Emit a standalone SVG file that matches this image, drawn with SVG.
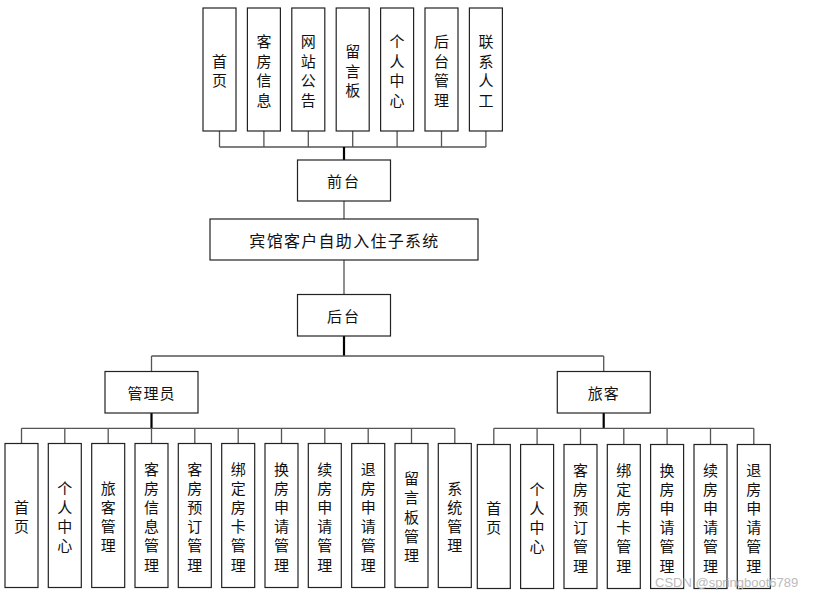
<svg xmlns="http://www.w3.org/2000/svg" width="834" height="598" viewBox="0 0 834 598">
<style>
rect{fill:#fff;stroke:#222;stroke-width:1.2}
text{font-family:"Noto Sans CJK SC","Noto Sans",sans-serif;font-size:15px;fill:#111;text-anchor:middle;dominant-baseline:central}
.c{fill:none;stroke:#555;stroke-width:1.3}
.t{fill:none;stroke:#000;stroke-width:2.2}
.wm{font-family:"Liberation Sans",sans-serif;font-size:13px;fill:#bbb;text-anchor:start}
</style>
<rect width="834" height="598" style="fill:#fff;stroke:none"/>
<g id="connectors">
<path class="c" d="M219.5 131V147M263.9 131V147M308.3 131V147M352.7 131V147M397.1 131V147M441.5 131V147M485.9 131V147M219.5 147H485.9"/>
<path class="t" d="M344 147V160"/>
<path class="c" d="M344 201V219M344 260V294"/>
<path class="t" d="M344 336V356"/>
<path class="c" d="M151.5 356H603.7M151.5 356V371M603.7 356V371"/>
<path class="t" d="M151.5 413V428.3M603.7 413V428.3"/>
<path class="c" d="M21.5 428.3H454.8M21.5 428.3V443.5M64.8 428.3V443.5M108.2 428.3V443.5M151.5 428.3V443.5M194.8 428.3V443.5M238.2 428.3V443.5M281.5 428.3V443.5M324.8 428.3V443.5M368.2 428.3V443.5M411.5 428.3V443.5M454.8 428.3V443.5"/>
<path class="c" d="M493.8 428.3H753.8M493.8 428.3V444.5M537.1 428.3V444.5M580.5 428.3V444.5M623.8 428.3V444.5M667.1 428.3V444.5M710.5 428.3V444.5M753.8 428.3V444.5"/>
</g>
<g id="n-home"><rect x="203" y="8" width="33" height="123"/><text><tspan x="219.5" y="59.75">首</tspan><tspan x="219.5" y="79.25">页</tspan></text></g>
<g id="n-roominfo"><rect x="247.4" y="8" width="33" height="123"/><text><tspan x="263.9" y="40.25">客</tspan><tspan x="263.9" y="59.75">房</tspan><tspan x="263.9" y="79.25">信</tspan><tspan x="263.9" y="98.75">息</tspan></text></g>
<g id="n-notice"><rect x="291.8" y="8" width="33" height="123"/><text><tspan x="308.3" y="40.25">网</tspan><tspan x="308.3" y="59.75">站</tspan><tspan x="308.3" y="79.25">公</tspan><tspan x="308.3" y="98.75">告</tspan></text></g>
<g id="n-board"><rect x="336.2" y="8" width="33" height="123"/><text><tspan x="352.7" y="50">留</tspan><tspan x="352.7" y="69.5">言</tspan><tspan x="352.7" y="89">板</tspan></text></g>
<g id="n-center"><rect x="380.6" y="8" width="33" height="123"/><text><tspan x="397.1" y="40.25">个</tspan><tspan x="397.1" y="59.75">人</tspan><tspan x="397.1" y="79.25">中</tspan><tspan x="397.1" y="98.75">心</tspan></text></g>
<g id="n-admin-link"><rect x="425" y="8" width="33" height="123"/><text><tspan x="441.5" y="40.25">后</tspan><tspan x="441.5" y="59.75">台</tspan><tspan x="441.5" y="79.25">管</tspan><tspan x="441.5" y="98.75">理</tspan></text></g>
<g id="n-contact"><rect x="469.4" y="8" width="33" height="123"/><text><tspan x="485.9" y="40.25">联</tspan><tspan x="485.9" y="59.75">系</tspan><tspan x="485.9" y="79.25">人</tspan><tspan x="485.9" y="98.75">工</tspan></text></g>
<g id="n-front"><rect x="297.5" y="160" width="93" height="41"/><text x="344" y="180.5" letter-spacing="2">前台</text></g>
<g id="n-system"><rect x="210" y="219" width="268" height="41"/><text x="344.5" y="239.5" style="font-size:16px" letter-spacing="1.3">宾馆客户自助入住子系统</text></g>
<g id="n-back"><rect x="297.5" y="294.5" width="93" height="41.5"/><text x="344" y="315" letter-spacing="2">后台</text></g>
<g id="n-administrator"><rect x="105" y="371.5" width="93" height="41.5"/><text x="151.5" y="392" letter-spacing="1">管理员</text></g>
<g id="n-traveler"><rect x="557.3" y="371.5" width="93" height="41.5"/><text x="603.8" y="392" letter-spacing="1">旅客</text></g>
<g id="a1"><rect x="5" y="443.5" width="33" height="144"/><text><tspan x="21.5" y="505.9">首</tspan><tspan x="21.5" y="525.1">页</tspan></text></g>
<g id="a2"><rect x="48.3" y="443.5" width="33" height="144"/><text><tspan x="64.8" y="486.7">个</tspan><tspan x="64.8" y="505.9">人</tspan><tspan x="64.8" y="525.1">中</tspan><tspan x="64.8" y="544.3">心</tspan></text></g>
<g id="a3"><rect x="91.7" y="443.5" width="33" height="144"/><text><tspan x="108.2" y="486.7">旅</tspan><tspan x="108.2" y="505.9">客</tspan><tspan x="108.2" y="525.1">管</tspan><tspan x="108.2" y="544.3">理</tspan></text></g>
<g id="a4"><rect x="135" y="443.5" width="33" height="144"/><text><tspan x="151.5" y="467.5">客</tspan><tspan x="151.5" y="486.7">房</tspan><tspan x="151.5" y="505.9">信</tspan><tspan x="151.5" y="525.1">息</tspan><tspan x="151.5" y="544.3">管</tspan><tspan x="151.5" y="563.5">理</tspan></text></g>
<g id="a5"><rect x="178.3" y="443.5" width="33" height="144"/><text><tspan x="194.8" y="467.5">客</tspan><tspan x="194.8" y="486.7">房</tspan><tspan x="194.8" y="505.9">预</tspan><tspan x="194.8" y="525.1">订</tspan><tspan x="194.8" y="544.3">管</tspan><tspan x="194.8" y="563.5">理</tspan></text></g>
<g id="a6"><rect x="221.7" y="443.5" width="33" height="144"/><text><tspan x="238.2" y="467.5">绑</tspan><tspan x="238.2" y="486.7">定</tspan><tspan x="238.2" y="505.9">房</tspan><tspan x="238.2" y="525.1">卡</tspan><tspan x="238.2" y="544.3">管</tspan><tspan x="238.2" y="563.5">理</tspan></text></g>
<g id="a7"><rect x="265" y="443.5" width="33" height="144"/><text><tspan x="281.5" y="467.5">换</tspan><tspan x="281.5" y="486.7">房</tspan><tspan x="281.5" y="505.9">申</tspan><tspan x="281.5" y="525.1">请</tspan><tspan x="281.5" y="544.3">管</tspan><tspan x="281.5" y="563.5">理</tspan></text></g>
<g id="a8"><rect x="308.3" y="443.5" width="33" height="144"/><text><tspan x="324.8" y="467.5">续</tspan><tspan x="324.8" y="486.7">房</tspan><tspan x="324.8" y="505.9">申</tspan><tspan x="324.8" y="525.1">请</tspan><tspan x="324.8" y="544.3">管</tspan><tspan x="324.8" y="563.5">理</tspan></text></g>
<g id="a9"><rect x="351.7" y="443.5" width="33" height="144"/><text><tspan x="368.2" y="467.5">退</tspan><tspan x="368.2" y="486.7">房</tspan><tspan x="368.2" y="505.9">申</tspan><tspan x="368.2" y="525.1">请</tspan><tspan x="368.2" y="544.3">管</tspan><tspan x="368.2" y="563.5">理</tspan></text></g>
<g id="a10"><rect x="395" y="443.5" width="33" height="144"/><text><tspan x="411.5" y="477.1">留</tspan><tspan x="411.5" y="496.3">言</tspan><tspan x="411.5" y="515.5">板</tspan><tspan x="411.5" y="534.7">管</tspan><tspan x="411.5" y="553.9">理</tspan></text></g>
<g id="a11"><rect x="438.3" y="443.5" width="33" height="144"/><text><tspan x="454.8" y="486.7">系</tspan><tspan x="454.8" y="505.9">统</tspan><tspan x="454.8" y="525.1">管</tspan><tspan x="454.8" y="544.3">理</tspan></text></g>
<g id="t1"><rect x="477.3" y="444.5" width="33" height="144"/><text><tspan x="493.8" y="506.9">首</tspan><tspan x="493.8" y="526.1">页</tspan></text></g>
<g id="t2"><rect x="520.6" y="444.5" width="33" height="144"/><text><tspan x="537.1" y="487.7">个</tspan><tspan x="537.1" y="506.9">人</tspan><tspan x="537.1" y="526.1">中</tspan><tspan x="537.1" y="545.3">心</tspan></text></g>
<g id="t3"><rect x="564" y="444.5" width="33" height="144"/><text><tspan x="580.5" y="468.5">客</tspan><tspan x="580.5" y="487.7">房</tspan><tspan x="580.5" y="506.9">预</tspan><tspan x="580.5" y="526.1">订</tspan><tspan x="580.5" y="545.3">管</tspan><tspan x="580.5" y="564.5">理</tspan></text></g>
<g id="t4"><rect x="607.3" y="444.5" width="33" height="144"/><text><tspan x="623.8" y="468.5">绑</tspan><tspan x="623.8" y="487.7">定</tspan><tspan x="623.8" y="506.9">房</tspan><tspan x="623.8" y="526.1">卡</tspan><tspan x="623.8" y="545.3">管</tspan><tspan x="623.8" y="564.5">理</tspan></text></g>
<g id="t5"><rect x="650.6" y="444.5" width="33" height="144"/><text><tspan x="667.1" y="468.5">换</tspan><tspan x="667.1" y="487.7">房</tspan><tspan x="667.1" y="506.9">申</tspan><tspan x="667.1" y="526.1">请</tspan><tspan x="667.1" y="545.3">管</tspan><tspan x="667.1" y="564.5">理</tspan></text></g>
<g id="t6"><rect x="694" y="444.5" width="33" height="144"/><text><tspan x="710.5" y="468.5">续</tspan><tspan x="710.5" y="487.7">房</tspan><tspan x="710.5" y="506.9">申</tspan><tspan x="710.5" y="526.1">请</tspan><tspan x="710.5" y="545.3">管</tspan><tspan x="710.5" y="564.5">理</tspan></text></g>
<g id="t7"><rect x="737.3" y="444.5" width="33" height="144"/><text><tspan x="753.8" y="468.5">退</tspan><tspan x="753.8" y="487.7">房</tspan><tspan x="753.8" y="506.9">申</tspan><tspan x="753.8" y="526.1">请</tspan><tspan x="753.8" y="545.3">管</tspan><tspan x="753.8" y="564.5">理</tspan></text></g>
<text class="wm" x="655" y="582">CSDN @springboot6789</text>
</svg>
